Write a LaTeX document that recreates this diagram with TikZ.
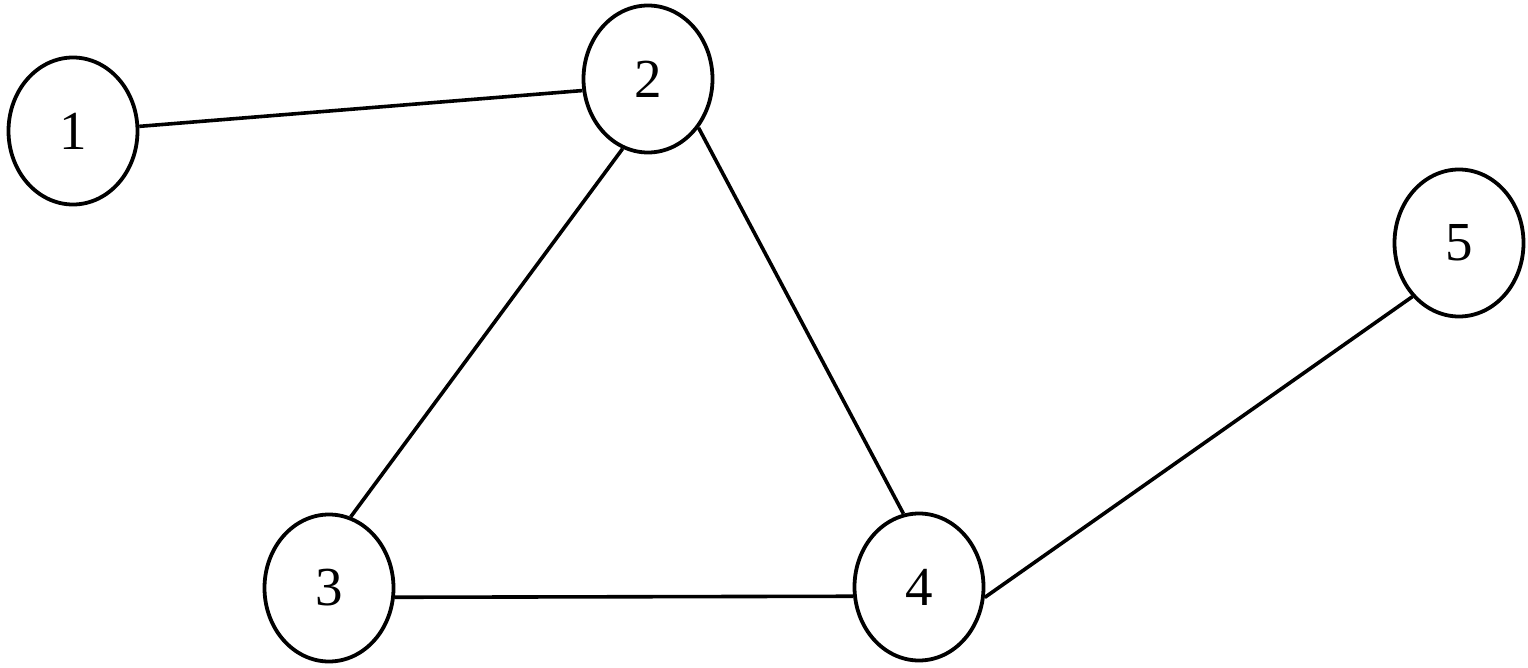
\documentclass[tikz,border=0pt]{standalone}
\usepackage{fontspec}
\setmainfont{Liberation Serif}
\usetikzlibrary{shapes.geometric}
\tikzset{
  vertex/.style={draw, ellipse, line width=3.8pt, minimum width=129pt, minimum height=147pt, inner sep=0pt, font=\fontsize{55}{60}\selectfont},
  link/.style={line width=3.6pt}
}
\begin{document}
\begin{tikzpicture}[x=1pt,y=-1pt]
\useasboundingbox (0,0) rectangle (1528,668);
\node[vertex] (n1) at (73,131) {1};
\node[vertex] (n2) at (648,79) {2};
\node[vertex] (n3) at (329,588) {3};
\node[vertex] (n4) at (919,587) {4};
\node[vertex] (n5) at (1459,243) {5};
\draw[link] (n1.4) -- (n2.190);
\draw[link] (n2.250) -- (n3.73);
\draw[link] (n2.316) -- (n4.102);
\draw[link] (n3.352) -- (n4.188);
\draw[link] (n4.351) -- (n5.229);
\end{tikzpicture}
\end{document}
